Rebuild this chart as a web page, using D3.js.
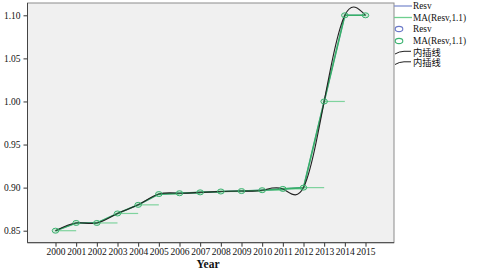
<!DOCTYPE html>
<html><head><meta charset="utf-8">
<script src="https://cdn.jsdelivr.net/npm/d3@7"></script>
<style>body{margin:0;background:#fff}svg{display:block}</style>
</head><body>
<svg id="c" width="481" height="274"></svg>
<script>
const years = [2000,2001,2002,2003,2004,2005,2006,2007,2008,2009,2010,2011,2012,2013,2014,2015];
const resv = [0.850,0.859,0.859,0.870,0.880,0.8925,0.8935,0.8945,0.8955,0.896,0.897,0.8985,0.900,1.000,1.100,1.100];
const maResv = [0.850,0.859,0.859,0.870,0.880,0.8925,0.8935,0.8945,0.8955,0.896,0.897,0.8985,0.900,1.000,1.100,1.100];
const yTicks = [0.85,0.90,0.95,1.00,1.05,1.10];
const legendLabels = ["Resv","MA(Resv,1.1)","Resv","MA(Resv,1.1)","内插线","内插线"];
const xTitle = "Year";

const font = "'Liberation Serif','Times New Roman','Noto Sans CJK SC',serif";
const svg = d3.select("#c");
const frame = {l:27.5, r:394, t:3, b:242.7};
const x = d3.scaleLinear().domain([2000,2015]).range([55.5,365.5]);
const y = d3.scaleLinear().domain([0.85,1.10]).range([230.7,15.3]);

svg.append("rect").attr("x",frame.l).attr("y",frame.t).attr("width",frame.r-frame.l).attr("height",frame.b-frame.t)
  .attr("fill","#f0f0f0").attr("stroke","#8c8c8c").attr("stroke-width",1);

// axes
const yAxis = d3.axisLeft(y).tickValues(yTicks).tickFormat(d3.format(".2f")).tickSize(4).tickPadding(3);
const gy = svg.append("g").attr("transform",`translate(${frame.l},0)`).call(yAxis);
const xAxis = d3.axisBottom(x).tickValues(years).tickFormat(d3.format("d")).tickSize(4).tickPadding(2);
const gx = svg.append("g").attr("transform",`translate(0,${frame.b})`).call(xAxis);
[gy,gx].forEach(g=>{
  g.select(".domain").remove();
  g.selectAll("line").attr("stroke","#333");
  g.selectAll("text").attr("font-family",font).attr("font-size",9.5).attr("fill","#111");
});
svg.append("line").attr("x1",frame.l).attr("x2",frame.l).attr("y1",frame.t).attr("y2",frame.b).attr("stroke","#444");
svg.append("line").attr("x1",frame.l).attr("x2",frame.r).attr("y1",frame.b).attr("y2",frame.b).attr("stroke","#444");

svg.append("text").attr("x",208).attr("y",268).attr("text-anchor","middle").attr("font-family",font)
  .attr("font-weight","bold").attr("font-size",11.5).attr("fill","#111").text(xTitle);

const pts = years.map((t,i)=>[t,resv[i]]);
const maPts = years.map((t,i)=>[t,maResv[i]]);
const lineLin = d3.line().x(d=>x(d[0])).y(d=>y(d[1]));

// horizontal MA segments
const g = svg.append("g");
maPts.slice(0,-1).forEach(d=>{
  g.append("line").attr("x1",x(d[0])).attr("x2",x(d[0]+1)).attr("y1",y(d[1])).attr("y2",y(d[1]))
   .attr("stroke","#7fd39e").attr("stroke-width",1.2);
});
g.append("path").datum(pts).attr("d",lineLin).attr("fill","none").attr("stroke","#7f8fd0").attr("stroke-width",1.2);
g.append("path").datum(maPts).attr("d",lineLin).attr("fill","none").attr("stroke","#37b068").attr("stroke-width",1.6);
const spline = d3.line().x(d=>x(d[0])).y(d=>y(d[1])).curve(d3.curveNatural);
g.append("path").datum(pts).attr("d",spline).attr("fill","none").attr("stroke","#222").attr("stroke-width",1.1);
g.selectAll("ellipse").data(maPts).join("ellipse").attr("cx",d=>x(d[0])).attr("cy",d=>y(d[1]))
  .attr("rx",3.3).attr("ry",2.5).attr("fill","rgba(80,190,120,0.2)").attr("stroke","#3cb371").attr("stroke-width",1);

// legend
const lg = svg.append("g");
const rowY = [6,17.5,29,41,52.5,63];
legendLabels.forEach((t,i)=>{
  const yy = rowY[i];
  if(i===0||i===1){
    lg.append("line").attr("x1",394).attr("x2",412).attr("y1",yy).attr("y2",yy)
      .attr("stroke",i===0?"#7f8fd0":"#6fcf8f").attr("stroke-width",1.3);
  } else if(i===2||i===3){
    lg.append("ellipse").attr("cx",399).attr("cy",yy).attr("rx",3.8).attr("ry",2.6).attr("fill","none")
      .attr("stroke",i===2?"#6a78c8":"#3cb371").attr("stroke-width",1.1);
  } else {
    lg.append("path").attr("d",`M395,${yy+1.5} Q399,${yy-1} 404,${yy-1.2} L411,${yy-1.2}`)
      .attr("fill","none").attr("stroke","#222").attr("stroke-width",1);
  }
  lg.append("text").attr("x",413).attr("y",yy+3.3).attr("font-family",font).attr("font-size",9.3)
    .attr("fill","#111").text(t);
});
</script>
</body></html>
